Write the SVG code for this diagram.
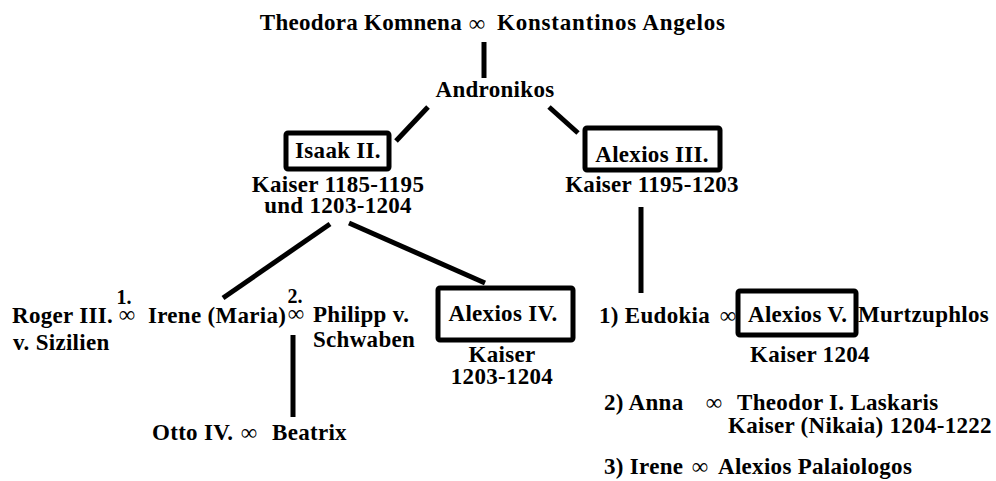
<svg xmlns="http://www.w3.org/2000/svg" width="996" height="481" viewBox="0 0 996 481">
<style>
text{font-family:"Liberation Serif","Times New Roman",serif;font-weight:bold;font-size:23px;letter-spacing:0.3px;fill:#000}
.m{text-anchor:middle}
.e{text-anchor:end}
.inf{font-weight:normal;font-size:23px;letter-spacing:0}
.num{font-size:20px;letter-spacing:0}
.box{fill:none;stroke:#000;stroke-width:5}
.ln{stroke:#000;stroke-width:5;fill:none}
</style>
<rect width="996" height="481" fill="#fff"/>
<g id="connectors">
<line class="ln" x1="484" y1="42" x2="484" y2="78"/>
<line class="ln" x1="428" y1="107" x2="396" y2="141"/>
<line class="ln" x1="549" y1="107" x2="578" y2="133"/>
<line class="ln" x1="641" y1="207" x2="641" y2="293"/>
<line class="ln" x1="330" y1="224" x2="223" y2="298"/>
<line class="ln" x1="349" y1="223" x2="485" y2="283"/>
<line class="ln" x1="293" y1="335" x2="293" y2="417"/>
</g>
<g id="parents">
<text class="e" x="462" y="30">Theodora Komnena</text>
<text class="inf m" x="477" y="31">∞</text>
<text x="497" y="30" style="letter-spacing:0.8px">Konstantinos Angelos</text>
</g>
<g id="andronikos"><text class="m" x="495" y="97">Andronikos</text></g>
<g id="isaak">
<rect class="box" x="286" y="133" width="103" height="36" rx="2"/>
<text class="m" x="338" y="158">Isaak II.</text>
<text class="m" x="338" y="192">Kaiser 1185-1195</text>
<text class="m" x="338" y="213">und 1203-1204</text>
</g>
<g id="alexios3">
<rect class="box" x="585" y="128" width="135" height="42" rx="2"/>
<text class="m" x="652" y="162">Alexios III.</text>
<text class="m" x="652" y="192">Kaiser 1195-1203</text>
</g>
<g id="roger">
<text x="12" y="323">Roger III.</text>
<text x="13" y="350">v. Sizilien</text>
</g>
<g id="m1"><text class="num m" x="124" y="304">1.</text><text class="inf m" x="127" y="322">∞</text></g>
<g id="irene"><text x="148" y="323">Irene (Maria)</text></g>
<g id="m2"><text class="num m" x="295" y="303">2.</text><text class="inf m" x="296" y="321">∞</text></g>
<g id="philipp">
<text x="313" y="322">Philipp v.</text>
<text x="313" y="347">Schwaben</text>
</g>
<g id="alexios4">
<rect class="box" x="438" y="288" width="135" height="52" rx="2"/>
<text class="m" x="503" y="321">Alexios IV.</text>
<text class="m" x="502" y="362">Kaiser</text>
<text class="m" x="502" y="384">1203-1204</text>
</g>
<g id="otto">
<text x="152" y="440">Otto IV.</text>
<text class="inf m" x="249" y="440">∞</text>
<text x="272" y="440">Beatrix</text>
</g>
<g id="eudokia">
<text x="599" y="323">1) Eudokia</text>
<text class="inf m" x="728" y="323">∞</text>
</g>
<g id="alexios5">
<rect class="box" x="738" y="291" width="118" height="44" rx="2"/>
<text x="748" y="322">Alexios V.</text>
<text x="858" y="322">Murtzuphlos</text>
<text x="750" y="362">Kaiser 1204</text>
</g>
<g id="anna">
<text x="604" y="410">2) Anna</text>
<text class="inf m" x="714" y="410">∞</text>
<text x="737" y="410">Theodor I. Laskaris</text>
<text x="728" y="433">Kaiser (Nikaia) 1204-1222</text>
</g>
<g id="irene3">
<text x="604" y="474">3) Irene</text>
<text class="inf m" x="700" y="474">∞</text>
<text x="718" y="474">Alexios Palaiologos</text>
</g>
</svg>
